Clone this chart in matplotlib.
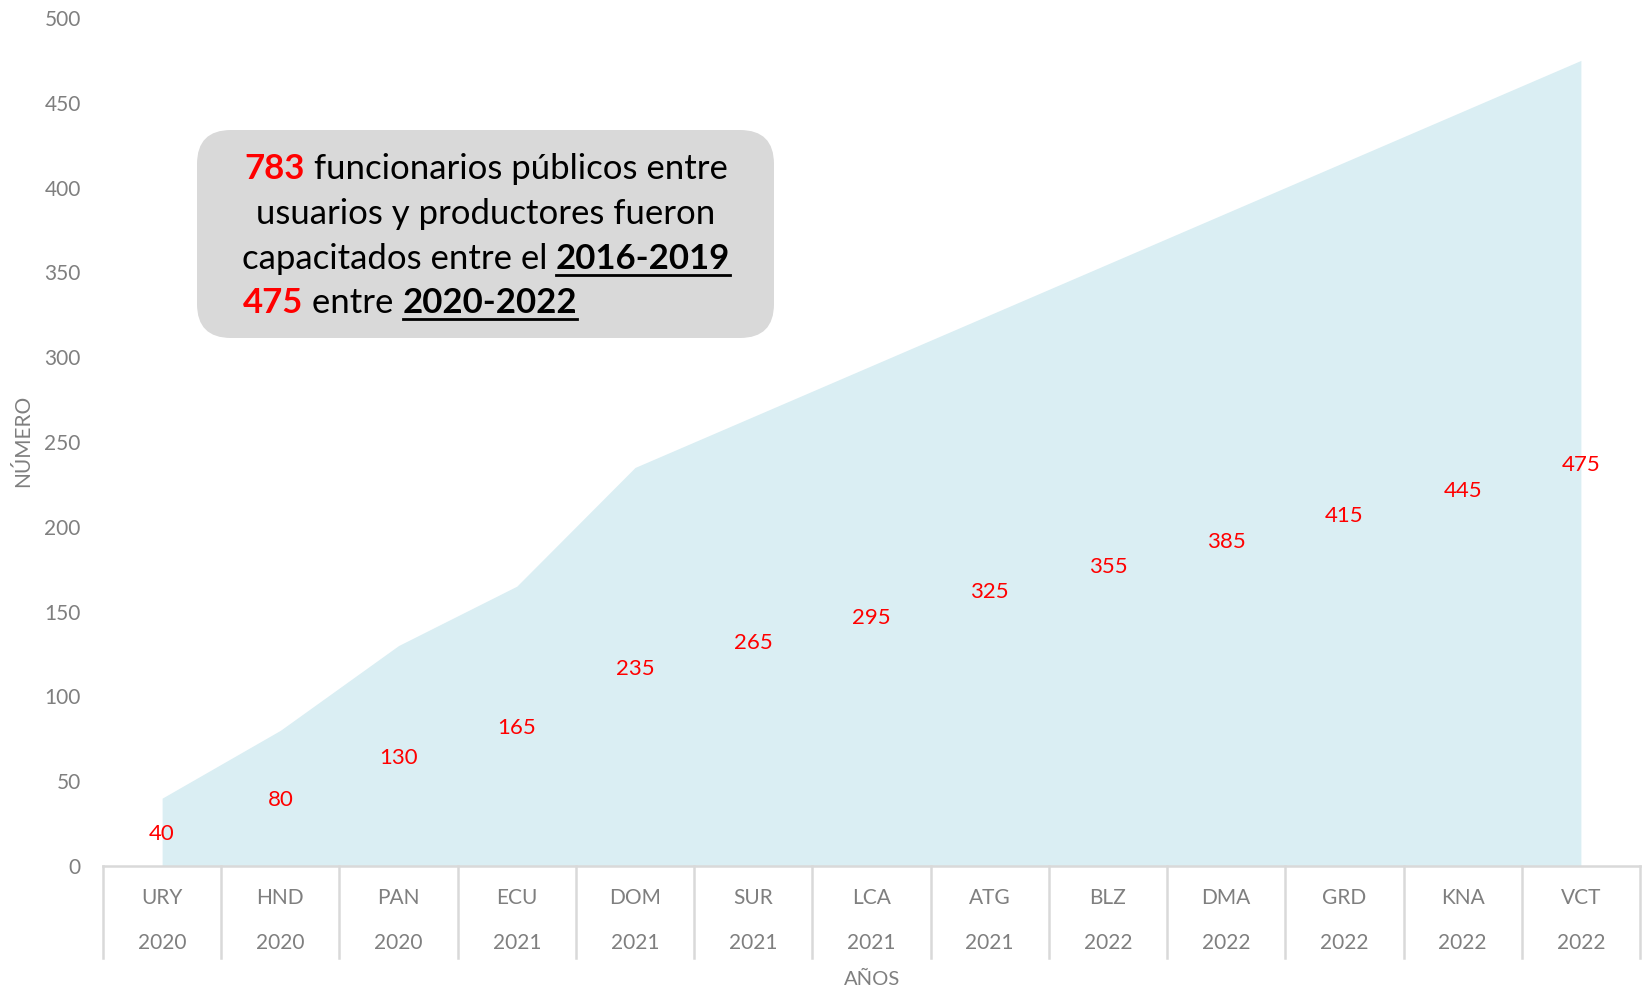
import matplotlib.pyplot as plt
from matplotlib.patches import FancyBboxPatch
from matplotlib.lines import Line2D
from matplotlib.transforms import IdentityTransform, blended_transform_factory

# data
countries = ['URY', 'HND', 'PAN', 'ECU', 'DOM', 'SUR', 'LCA', 'ATG', 'BLZ', 'DMA', 'GRD', 'KNA', 'VCT']
years = ['2020', '2020', '2020', '2021', '2021', '2021', '2021', '2021', '2022', '2022', '2022', '2022', '2022']
values = [40, 80, 130, 165, 235, 265, 295, 325, 355, 385, 415, 445, 475]

W, H = 1645, 991
GRAY = '#7F7F7F'
LINE = '#D9D9D9'
plt.rcParams['font.family'] = ['Lato', 'DejaVu Sans']

fig = plt.figure(figsize=(W / 100, H / 100), dpi=100)
ax = fig.add_axes([103 / W, 1 - 866 / H, (1640 - 103) / W, (866 - 18) / H])

x = list(range(len(values)))
ax.fill_between(x, values, color='#DAEEF3', lw=0)
for i, v in enumerate(values):
    ax.text(i, v / 2, str(v), color='red', ha='center', va='center_baseline', fontsize=16)

ax.set_xlim(-0.5, len(values) - 0.5)
ax.set_ylim(0, 500)
ax.set_yticks(range(0, 501, 50))
ax.set_xticks([])
ax.tick_params(axis='y', length=0, labelsize=15, labelcolor=GRAY, pad=16)
for s in ['left', 'top', 'right']:
    ax.spines[s].set_visible(False)
ax.spines['bottom'].set_color(LINE)
ax.spines['bottom'].set_linewidth(1.8)

# two level category axis
tr = blended_transform_factory(ax.transData, ax.transAxes)
depth = -(958 - 866) / (866 - 18)
for k in range(len(values) + 1):
    ax.add_line(Line2D([k - 0.5, k - 0.5], [0, depth], transform=tr, color=LINE,
                       lw=1.8, clip_on=False))
for i, (c, y) in enumerate(zip(countries, years)):
    ax.text(i, -(898 - 866) / 848, c, transform=tr, ha='center', va='center',
            fontsize=15, color=GRAY)
    ax.text(i, -(943 - 866) / 848, y, transform=tr, ha='center', va='center',
            fontsize=15, color=GRAY)

fig.text(23 / W, 1 - 441 / H, 'NÚMERO', rotation=90, ha='center', va='center',
         fontsize=15, color=GRAY)
fig.text(872 / W, 1 - 979 / H, 'AÑOS', ha='center', va='center', fontsize=14.5, color=GRAY)

# annotation box (pixel coordinates)
idt = IdentityTransform()
box = FancyBboxPatch((197, H - 338), 774 - 197, 338 - 130,
                     boxstyle='round,pad=0,rounding_size=34', transform=idt,
                     facecolor='#D9D9D9', edgecolor='none', zorder=5)
fig.add_artist(box)

renderer = fig.canvas.get_renderer()
FS = 25


def draw_line(parts, py, cx=None, left=None):
    # parts: (text, color, bold, underline)
    texts = []
    for t, col, bold, und in parts:
        tx = fig.text(0, 0, t, transform=idt, fontsize=FS, color=col,
                      fontweight='bold' if bold else 'normal', va='baseline',
                      ha='left', zorder=6)
        texts.append(tx)
    widths = [tx.get_window_extent(renderer).width for tx in texts]
    total = sum(widths)
    xs = left if left is not None else cx - total / 2
    yb = H - py
    for tx, w, (t, col, bold, und) in zip(texts, widths, parts):
        tx.set_position((xs, yb))
        if und:
            fig.add_artist(Line2D([xs, xs + w], [yb - 6, yb - 6], transform=idt,
                                  color='black', lw=2, zorder=6))
        xs += w


draw_line([('783', 'red', True, False), (' funcionarios públicos entre', 'black', False, False)], 179, cx=486)
draw_line([('usuarios y productores fueron', 'black', False, False)], 224, cx=486)
draw_line([('capacitados entre el ', 'black', False, False), ('2016-2019', 'black', True, True)], 269, cx=486)
draw_line([('475', 'red', True, False), (' entre ', 'black', False, False), ('2020-2022', 'black', True, True)], 313, left=243)

fig.savefig('out.png', dpi=100)
